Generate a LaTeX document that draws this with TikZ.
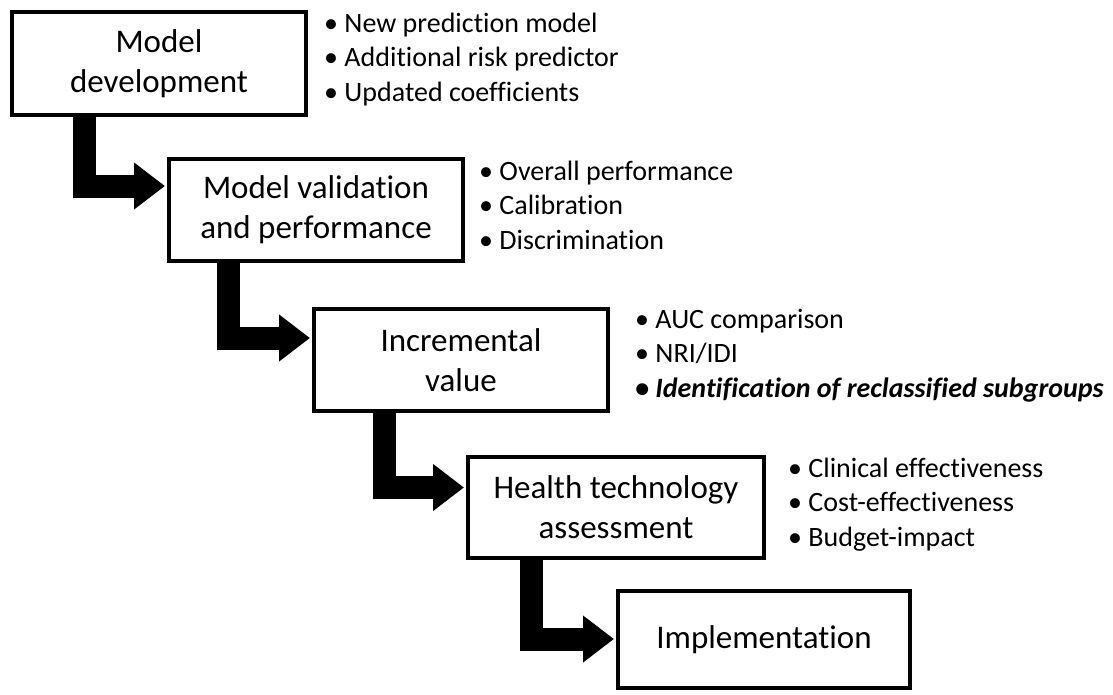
\documentclass[tikz,border=0pt]{standalone}
\usepackage{fontspec}
\setmainfont{Carlito}[Ligatures=CommonOff]
\usetikzlibrary{arrows.meta,calc}
\begin{document}
\begin{tikzpicture}[x=1pt,y=-1pt,
  box/.style={draw=black, line width=4pt, fill=white, align=center,
    font=\fontsize{33}{40}\selectfont, inner sep=0pt},
  bullets/.style={align=left, anchor=base west, inner sep=0pt,
    font=\fontsize{28}{34.5}\selectfont},
  flow/.style={line width=23pt, line join=miter,
    -{Triangle[length=31pt,width=45pt]}}]
\useasboundingbox[fill=white] (0,0) rectangle (1113,694);
% boxes
\node[box, minimum width=294pt, minimum height=103pt] (b1) at (159,63.5) {Model\\development};
\node[box, minimum width=294pt, minimum height=102pt] (b2) at (316,210) {Model validation\\and performance};
\node[box, minimum width=294pt, minimum height=102pt] (b3) at (461,360) {Incremental\\value};
\node[box, minimum width=296pt, minimum height=101pt] (b4) at (616,507.5) {Health technology\\assessment};
\node[box, minimum width=292pt, minimum height=97pt] (b5) at (764,639.5) {Implementation};
% connectors
\draw[flow] ($(b1.south west)+(74,0)$) |- ($(b2.north west)+(-2,29)$);
\draw[flow] ($(b2.south west)+(61.5,0)$) |- ($(b3.north west)+(-2,31)$);
\draw[flow] ($(b3.south west)+(72,0)$) |- ($(b4.north west)+(-2,32.5)$);
\draw[flow] ($(b4.south west)+(65.5,0)$) |- ($(b5.north west)+(-2,50)$);
% bullet lists (anchored at the baseline of their last line)
\node[bullets] (l1) at (324,101) {• New prediction model\\• Additional risk predictor\\• Updated coefficients};
\node[bullets] (l2) at (479,249) {• Overall performance\\• Calibration\\• Discrimination};
\node[bullets] (l3) at (635,397) {• AUC comparison\\• NRI/IDI\\\textbf{\textit{• Identification of reclassified subgroups}}};
\node[bullets] (l4) at (788,546) {• Clinical effectiveness\\• Cost-effectiveness\\• Budget-impact};
\end{tikzpicture}
\end{document}
